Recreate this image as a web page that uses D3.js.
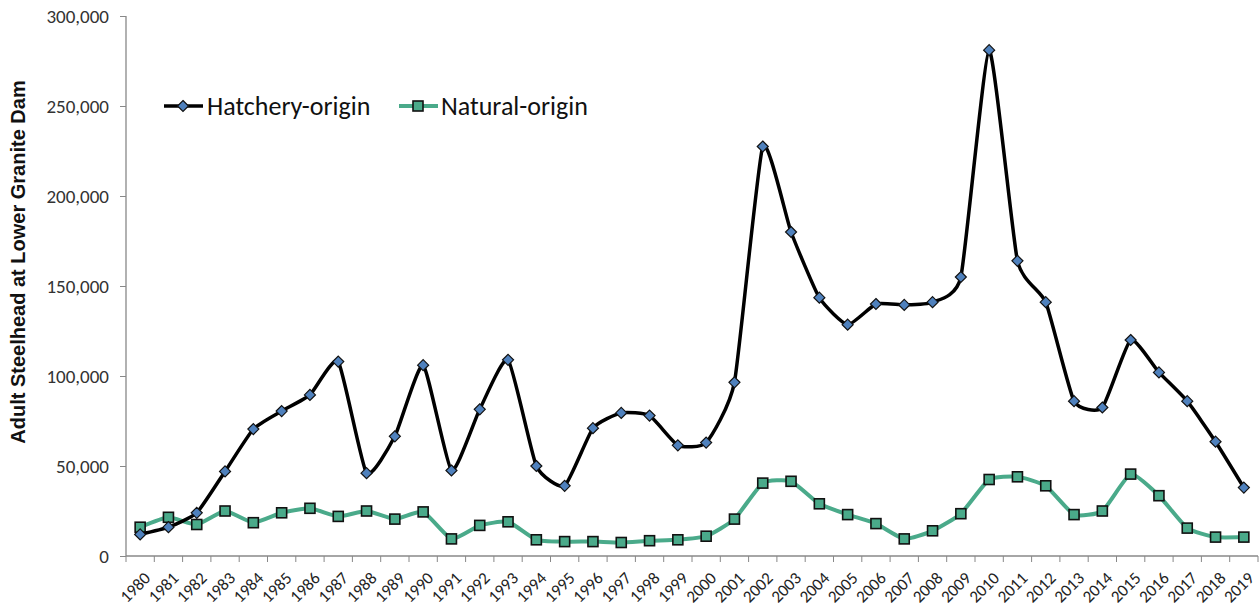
<!DOCTYPE html>
<html>
<head>
<meta charset="utf-8">
<script src="https://cdn.jsdelivr.net/npm/d3@7"></script>
<style>
  body { margin: 0; background: #fff; }
  text { font-family: Calibri, Carlito, "Open Sans", "Noto Sans", sans-serif; }
</style>
</head>
<body>
<div id="chart"></div>
<script>
// Data
var years = [1980, 1981, 1982, 1983, 1984, 1985, 1986, 1987, 1988, 1989,
  1990, 1991, 1992, 1993, 1994, 1995, 1996, 1997, 1998, 1999,
  2000, 2001, 2002, 2003, 2004, 2005, 2006, 2007, 2008, 2009,
  2010, 2011, 2012, 2013, 2014, 2015, 2016, 2017, 2018, 2019];
var hatchery = [12000, 16000, 24000, 47000, 70500, 80500, 89500, 108000, 46000, 66500,
  106000, 47500, 81500, 109000, 50000, 39000, 71000, 79500, 78000, 61500,
  63000, 96500, 227500, 180000, 143500, 128500, 140000, 139500, 141000, 155000,
  281000, 164000, 141000, 86000, 82500, 120000, 102000, 86000, 63500, 38000];
var natural = [16000, 21500, 17500, 25000, 18500, 24000, 26500, 22000, 25000, 20500,
  24500, 9500, 17000, 19000, 9000, 8000, 8000, 7500, 8500, 9000,
  11000, 20500, 40500, 41500, 29000, 23000, 18000, 9500, 14000, 23500,
  42500, 44000, 39000, 23000, 25000, 45500, 33500, 15500, 10500, 10500];
var yTicks = [0, 50000, 100000, 150000, 200000, 250000, 300000];

var W = 1259, H = 613;
var margin = { top: 16, right: 1, bottom: 57, left: 126 };
var width = W - margin.left - margin.right,
  height = H - margin.top - margin.bottom;

var svg = d3.select("#chart").append("svg")
  .attr("width", W).attr("height", H)
  .append("g")
  .attr("transform", "translate(" + margin.left + "," + margin.top + ")");

var x = d3.scaleBand().domain(years).range([0, width]);
var y = d3.scaleLinear().domain([0, 300000]).range([height, 0]);

// Y axis
var yAxis = svg.append("g")
  .call(d3.axisLeft(y).tickValues(yTicks).tickSize(6).tickFormat(d3.format(",")));
yAxis.select(".domain").attr("stroke", "#888").attr("stroke-width", 1.3)
  .attr("d", "M0," + height + "V0");
yAxis.selectAll(".tick line").attr("stroke", "#888");
yAxis.selectAll(".tick text")
  .attr("x", -17)
  .style("font-size", "19px")
  .attr("fill", "#333");

// X axis with ticks at band boundaries
var xg = svg.append("g").attr("transform", "translate(0," + height + ")");
xg.append("line").attr("x1", 0).attr("x2", width).attr("y1", 0).attr("y2", 0)
  .attr("stroke", "#888").attr("stroke-width", 1.3);
xg.selectAll(".xt").data(years.concat(["end"])).enter().append("line")
  .attr("x1", function (d, i) { return i * x.bandwidth(); })
  .attr("x2", function (d, i) { return i * x.bandwidth(); })
  .attr("y1", 0).attr("y2", 6)
  .attr("stroke", "#888");
xg.selectAll(".xl").data(years).enter().append("text")
  .attr("transform", function (d) {
    return "translate(" + (x(d) + x.bandwidth() / 2 + 7) + ",19) rotate(-45)";
  })
  .attr("text-anchor", "end")
  .attr("dy", "0.35em")
  .style("font-size", "17px")
  .attr("fill", "#222")
  .text(function (d) { return d; });

// Y axis title
svg.append("text")
  .attr("transform", "translate(" + (18 - margin.left) + "," + (262 - margin.top) + ") rotate(-90)")
  .attr("text-anchor", "middle")
  .attr("dy", "0.35em")
  .style("font-family", "Arial, 'Liberation Sans', sans-serif")
  .style("font-weight", "bold")
  .style("font-size", "20px")
  .attr("fill", "#111")
  .text("Adult Steelhead at Lower Granite Dam");

var cx = function (d, i) { return x(years[i]) + x.bandwidth() / 2; };
var line = d3.line()
  .x(cx)
  .y(function (d) { return y(d); })
  .curve(d3.curveCardinal.tension(0.5));

// Natural-origin
svg.append("path").datum(natural)
  .attr("d", line).attr("fill", "none")
  .attr("stroke", "#4aaa8a").attr("stroke-width", 4);
svg.selectAll(".nat").data(natural).enter().append("rect")
  .attr("x", function (d, i) { return cx(d, i) - 5; })
  .attr("y", function (d) { return y(d) - 5; })
  .attr("width", 10).attr("height", 10)
  .attr("fill", "#4aaa8a").attr("stroke", "#111").attr("stroke-width", 1.6);

// Hatchery-origin
svg.append("path").datum(hatchery)
  .attr("d", line).attr("fill", "none")
  .attr("stroke", "#000").attr("stroke-width", 3.5);
var diamond = "M0,-5.5L5.5,0L0,5.5L-5.5,0Z";
svg.selectAll(".hat").data(hatchery).enter().append("path")
  .attr("d", diamond)
  .attr("transform", function (d, i) { return "translate(" + cx(d, i) + "," + y(d) + ")"; })
  .attr("fill", "#4f81bd").attr("stroke", "#111").attr("stroke-width", 1.2);

// Legend
var legend = svg.append("g").attr("transform", "translate(" + (-margin.left) + "," + (106 - margin.top) + ")");
legend.append("line").attr("x1", 164).attr("x2", 203).attr("y1", 0).attr("y2", 0)
  .attr("stroke", "#000").attr("stroke-width", 3.5);
legend.append("path").attr("d", diamond).attr("transform", "translate(183,0)")
  .attr("fill", "#4f81bd").attr("stroke", "#111").attr("stroke-width", 1.2);
legend.append("text").attr("x", 207).attr("y", 0).attr("dy", "0.35em")
  .style("font-size", "26px").attr("fill", "#111").text("Hatchery-origin");
legend.append("line").attr("x1", 399).attr("x2", 438).attr("y1", 0).attr("y2", 0)
  .attr("stroke", "#4aaa8a").attr("stroke-width", 4);
legend.append("rect").attr("x", 413).attr("y", -5).attr("width", 10).attr("height", 10)
  .attr("fill", "#4aaa8a").attr("stroke", "#111").attr("stroke-width", 1.6);
legend.append("text").attr("x", 441).attr("y", 0).attr("dy", "0.35em")
  .style("font-size", "26px").attr("fill", "#111").text("Natural-origin");
</script>
</body>
</html>
